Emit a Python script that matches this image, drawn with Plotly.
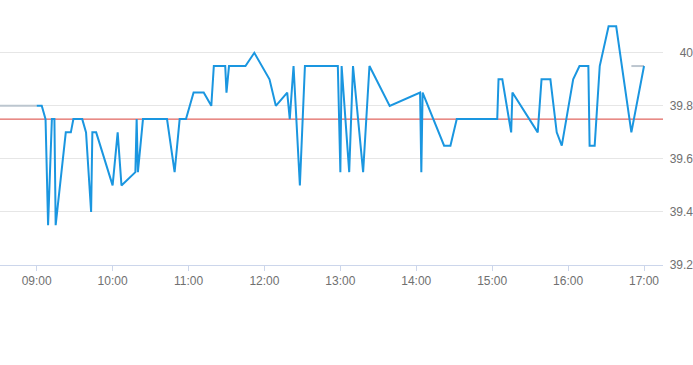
import plotly.graph_objects as go

day = "2024-01-02 "
times = ["09:00","09:04","09:07","09:09","09:12","09:14","09:15","09:23","09:27","09:29",
         "09:36","09:39","09:43","09:44","09:47","10:00","10:04","10:07","10:18","10:19",
         "10:20","10:24","10:43","10:49","10:53","10:58","11:04","11:12","11:18","11:20",
         "11:29","11:30","11:32","11:45","11:52","11:58","12:04","12:09","12:18","12:20",
         "12:23","12:28","12:32","12:58","13:00","13:01","13:07","13:10","13:18","13:23",
         "13:39","14:03","14:04","14:05","14:22","14:27","14:32","15:04","15:05","15:08",
         "15:15","15:16","15:36","15:39","15:46","15:51","15:55","16:04","16:09","16:16",
         "16:17","16:21","16:25","16:32","16:38","16:50","17:00"]
prices = [39.80,39.80,39.75,39.35,39.75,39.75,39.35,39.70,39.70,39.75,
          39.75,39.70,39.40,39.70,39.70,39.50,39.70,39.50,39.55,39.75,
          39.55,39.75,39.75,39.55,39.75,39.75,39.85,39.85,39.80,39.95,
          39.95,39.85,39.95,39.95,40.00,39.95,39.90,39.80,39.85,39.75,
          39.95,39.50,39.95,39.95,39.55,39.95,39.55,39.95,39.55,39.95,
          39.80,39.85,39.55,39.85,39.65,39.65,39.75,39.75,39.90,39.90,
          39.70,39.85,39.70,39.90,39.90,39.70,39.65,39.90,39.95,39.95,
          39.65,39.65,39.95,40.10,40.10,39.70,39.95]

pre_times = ["08:31", "09:00"]
pre_prices = [39.80, 39.80]
post_times = ["16:50", "17:00"]
post_prices = [39.95, 39.95]

prev_close = 39.75

x_range = ["08:31", "17:15"]
y_ticks = [39.2, 39.4, 39.6, 39.8, 40.0]
y_ticktext = ["39.2", "39.4", "39.6", "39.8", "40"]
x_ticks = ["09:00","10:00","11:00","12:00","13:00","14:00","15:00","16:00","17:00"]

def dt(ts):
    return [day + t for t in ts]

fig = go.Figure()
fig.add_trace(go.Scatter(x=dt(pre_times), y=pre_prices, mode="lines",
                         line=dict(color="#bcc6cf", width=2), hoverinfo="skip"))
fig.add_trace(go.Scatter(x=dt(post_times), y=post_prices, mode="lines",
                         line=dict(color="#bcc6cf", width=2), hoverinfo="skip"))
fig.add_trace(go.Scatter(x=dt(x_range), y=[prev_close, prev_close], mode="lines",
                         line=dict(color="#d9413a", width=1), hoverinfo="skip"))
fig.add_trace(go.Scatter(x=dt(times), y=prices, mode="lines",
                         line=dict(color="#1a96e0", width=2)))

font = dict(family="Liberation Sans, Arial, sans-serif", size=12, color="#707070")

fig.update_layout(
    width=693, height=365,
    margin=dict(l=0, r=0, t=13, b=100),
    paper_bgcolor="white", plot_bgcolor="white",
    showlegend=False,
    font=font,
    xaxis=dict(
        type="date", range=dt(x_range), domain=[0, 663/693],
        tickvals=dt(x_ticks), ticktext=x_ticks,
        showgrid=False, showline=True, linecolor="#ccd6eb", linewidth=1,
        ticks="outside", ticklen=5, tickcolor="#ccd6eb",
        zeroline=False, tickfont=font, automargin=False,
    ),
    yaxis=dict(
        range=[39.2, 40.15], tickvals=y_ticks, ticktext=y_ticktext,
        anchor="free", position=1.0, side="left",
        showgrid=True, gridcolor="#e6e6e6", gridwidth=1,
        zeroline=False, showline=False, ticks="", tickfont=font,
        automargin=False,
    ),
)

fig.write_html("out.html", config={"displayModeBar": False},
               post_script="document.body.style.margin='0';")
